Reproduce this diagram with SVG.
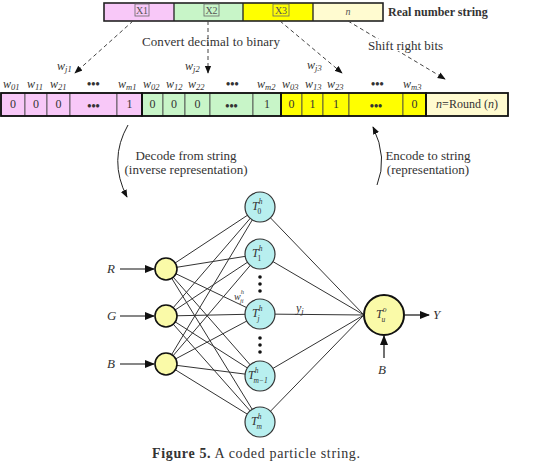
<svg xmlns="http://www.w3.org/2000/svg" width="533" height="468" viewBox="0 0 533 468">
<defs>
<style>
text{font-family:"Liberation Serif","DejaVu Serif",serif;fill:#333;}
.lbl{font-size:12px;}
.big{font-size:13px;}
.it{font-style:italic;}
.b{font-weight:bold;}
.ct{font-size:10px;text-anchor:middle;fill:#555;}
.cell{stroke:#444;stroke-width:0.8;}
.grp{fill:none;stroke:#111;stroke-width:1.8;}
.dash{fill:none;stroke:#444;stroke-width:1;stroke-dasharray:4,3;}
.edge{stroke:#333;stroke-width:1;}
.hid{fill:#b8efef;stroke:#333;stroke-width:1.2;}
.inp{fill:#fafaa8;stroke:#111;stroke-width:1.6;}
.sub{font-size:8.5px;}
.ss{font-size:7.5px;}
</style>
<marker id="ah" viewBox="0 0 10 10" refX="9" refY="5" markerWidth="8" markerHeight="8" orient="auto" markerUnits="userSpaceOnUse"><path d="M0,1 L10,5 L0,9 z" fill="#111"/></marker>
<marker id="ahb" viewBox="0 0 10 10" refX="9" refY="5" markerWidth="10" markerHeight="10" orient="auto" markerUnits="userSpaceOnUse"><path d="M0,1 L10,5 L0,9 z" fill="#111"/></marker>
</defs>

<g id="real-string">
<rect x="104" y="3" width="70" height="18" fill="#f8c8f8"/>
<rect x="174" y="3" width="69" height="18" fill="#c8f5c8"/>
<rect x="243" y="3" width="70" height="18" fill="#ffff00"/>
<rect x="313" y="3" width="70" height="18" fill="#fffbd0"/>
<path d="M174,3 V21 M243,3 V21 M313,3 V21" stroke="#222" stroke-width="1.3"/>
<rect x="104" y="3" width="279" height="18" fill="none" stroke="#222" stroke-width="1.6"/>
<rect x="135" y="4" width="14" height="12" fill="none" stroke="#666" stroke-width="0.8"/>
<rect x="204" y="4" width="15" height="12" fill="none" stroke="#666" stroke-width="0.8"/>
<rect x="273" y="4" width="16" height="12" fill="none" stroke="#666" stroke-width="0.8"/>
<text x="142" y="14" class="ct">X1</text>
<text x="211.5" y="14" class="ct">X2</text>
<text x="281" y="14" class="ct">X3</text>
<text x="348" y="15" class="ct it">n</text>
<text x="388" y="16" class="b" style="font-size:12px">Real number string</text>
</g>

<g id="connectors-top">
<line x1="133" y1="21" x2="75" y2="73" class="dash" marker-end="url(#ah)"/>
<line x1="208" y1="21" x2="208" y2="73" class="dash" marker-end="url(#ah)"/>
<line x1="280" y1="21" x2="342" y2="73" class="dash" marker-end="url(#ah)"/>
<line x1="348" y1="21" x2="445" y2="79" class="dash" marker-end="url(#ah)"/>
<text x="142" y="46" class="big" textLength="138">Convert decimal to binary</text>
<rect x="366" y="39" width="80" height="12" fill="#fff"/>
<text x="368" y="50" class="big">Shift right bits</text>
<text x="57" y="70" class="lbl it">w<tspan class="sub" dy="2">j1</tspan></text>
<text x="185" y="70" class="lbl it">w<tspan class="sub" dy="2">j2</tspan></text>
<text x="307" y="69" class="lbl it">w<tspan class="sub" dy="2">j3</tspan></text>
</g>

<g id="weight-labels" class="lbl">
<text x="3" y="88" class="it">w<tspan class="sub" dy="2">01</tspan></text>
<text x="27" y="88" class="it">w<tspan class="sub" dy="2">11</tspan></text>
<text x="50" y="88" class="it">w<tspan class="sub" dy="2">21</tspan></text>
<text x="87" y="88" class="b">•••</text>
<text x="118" y="88" class="it">w<tspan class="sub" dy="2">m1</tspan></text>
<text x="143" y="88" class="it">w<tspan class="sub" dy="2">02</tspan></text>
<text x="166" y="88" class="it">w<tspan class="sub" dy="2">12</tspan></text>
<text x="188" y="88" class="it">w<tspan class="sub" dy="2">22</tspan></text>
<text x="226" y="88" class="b">•••</text>
<text x="257" y="88" class="it">w<tspan class="sub" dy="2">m2</tspan></text>
<text x="282" y="88" class="it">w<tspan class="sub" dy="2">03</tspan></text>
<text x="305" y="88" class="it">w<tspan class="sub" dy="2">13</tspan></text>
<text x="327" y="88" class="it">w<tspan class="sub" dy="2">23</tspan></text>
<text x="371" y="88" class="b">•••</text>
<text x="403" y="88" class="it">w<tspan class="sub" dy="2">m3</tspan></text>
</g>

<g id="binary-string">
<g fill="#f8c8f8" class="cell">
<rect x="1" y="93" width="24" height="23"/><rect x="25" y="93" width="22" height="23"/><rect x="47" y="93" width="23" height="23"/><rect x="70" y="93" width="47" height="23"/><rect x="117" y="93" width="25" height="23"/>
</g>
<g fill="#c8f5c8" class="cell">
<rect x="142" y="93" width="21" height="23"/><rect x="163" y="93" width="22" height="23"/><rect x="185" y="93" width="25" height="23"/><rect x="210" y="93" width="43" height="23"/><rect x="253" y="93" width="28" height="23"/>
</g>
<g fill="#ffff00" class="cell">
<rect x="281" y="93" width="21" height="23"/><rect x="302" y="93" width="21" height="23"/><rect x="323" y="93" width="26" height="23"/><rect x="349" y="93" width="54" height="23"/><rect x="403" y="93" width="23" height="23"/>
</g>
<rect x="426" y="93" width="82" height="23" fill="#fffbd0"/>
<rect x="1" y="93" width="141" height="23" class="grp"/>
<rect x="142" y="93" width="139" height="23" class="grp"/>
<rect x="281" y="93" width="145" height="23" class="grp"/>
<rect x="426" y="93" width="82" height="23" class="grp"/>
<g class="lbl" text-anchor="middle">
<text x="13" y="108">0</text><text x="36" y="108">0</text><text x="58.5" y="108">0</text><text x="93.5" y="110" class="b">•••</text><text x="129.5" y="108">1</text>
<text x="152.5" y="108">0</text><text x="174" y="108">0</text><text x="197.5" y="108">0</text><text x="231.5" y="110" class="b">•••</text><text x="267" y="108">1</text>
<text x="291.5" y="108">0</text><text x="312.5" y="108">1</text><text x="336" y="108">1</text><text x="376" y="110" class="b">•••</text><text x="414.5" y="108">0</text>
<text x="467" y="108"><tspan class="it">n</tspan>=Round (<tspan class="it">n</tspan>)</text>
</g>
</g>

<g id="decode-encode">
<path d="M128,125 Q108,160 127,197" fill="none" stroke="#222" stroke-width="1" marker-end="url(#ah)"/>
<path d="M377,185 Q388,158 373,127" fill="none" stroke="#222" stroke-width="1" marker-end="url(#ah)"/>
<text x="186" y="160" class="big" text-anchor="middle">Decode from string</text>
<text x="186" y="174" class="big" text-anchor="middle">(inverse representation)</text>
<text x="428" y="160" class="big" text-anchor="middle">Encode to string</text>
<text x="428" y="174" class="big" text-anchor="middle">(representation)</text>
</g>

<g id="connectors">
<g class="edge">
<line x1="166" y1="269" x2="260" y2="207"/><line x1="166" y1="269" x2="260" y2="254"/><line x1="166" y1="269" x2="260" y2="314"/><line x1="166" y1="269" x2="260" y2="376"/><line x1="166" y1="269" x2="260" y2="422"/>
<line x1="166" y1="316" x2="260" y2="207"/><line x1="166" y1="316" x2="260" y2="254"/><line x1="166" y1="316" x2="260" y2="314"/><line x1="166" y1="316" x2="260" y2="376"/><line x1="166" y1="316" x2="260" y2="422"/>
<line x1="166" y1="364" x2="260" y2="207"/><line x1="166" y1="364" x2="260" y2="254"/><line x1="166" y1="364" x2="260" y2="314"/><line x1="166" y1="364" x2="260" y2="376"/><line x1="166" y1="364" x2="260" y2="422"/>
<line x1="260" y1="207" x2="364" y2="315"/><line x1="260" y1="254" x2="364" y2="315"/><line x1="260" y1="314" x2="364" y2="315"/><line x1="260" y1="376" x2="364" y2="315"/><line x1="260" y1="422" x2="364" y2="315"/>
</g>
<g stroke="#111" stroke-width="1.2">
<line x1="120" y1="269" x2="154" y2="269" marker-end="url(#ahb)"/>
<line x1="120" y1="316" x2="154" y2="316" marker-end="url(#ahb)"/>
<line x1="120" y1="364" x2="154" y2="364" marker-end="url(#ahb)"/>
<line x1="405" y1="315" x2="429" y2="315" marker-end="url(#ahb)"/>
<line x1="384" y1="358" x2="384" y2="336" marker-end="url(#ahb)"/>
</g>
<text x="234" y="300" class="it" style="font-size:10px">w<tspan style="font-size:6.5px" dy="-6">h</tspan><tspan style="font-size:6.5px" dx="-4" dy="9">ji</tspan></text>
<text x="296" y="312" class="lbl it">y<tspan class="sub" dy="2">j</tspan></text>
</g>

<g id="input-R"><circle cx="166" cy="269" r="11" class="inp"/><text x="107" y="273" class="big it">R</text></g>
<g id="input-G"><circle cx="166" cy="316" r="11" class="inp"/><text x="107" y="320" class="big it">G</text></g>
<g id="input-B"><circle cx="166" cy="364" r="11" class="inp"/><text x="107" y="368" class="big it">B</text></g>

<g id="hidden-T0"><circle cx="260" cy="207" r="15" class="hid"/><text x="252" y="210" class="lbl it">T<tspan class="ss" dy="-6">h</tspan><tspan class="ss" dx="-5" dy="10" font-style="normal">0</tspan></text></g>
<g id="hidden-T1"><circle cx="260" cy="254" r="15" class="hid"/><text x="252" y="257" class="lbl it">T<tspan class="ss" dy="-6">h</tspan><tspan class="ss" dx="-5" dy="10" font-style="normal">1</tspan></text></g>
<g id="dots1" fill="#111"><circle cx="260" cy="277" r="1.8"/><circle cx="260" cy="284" r="1.8"/><circle cx="260" cy="291" r="1.8"/></g>
<g id="hidden-Tj"><circle cx="260" cy="314" r="15" class="hid"/><text x="252" y="317" class="lbl it">T<tspan class="ss" dy="-6">h</tspan><tspan class="ss" dx="-5" dy="10">j</tspan></text></g>
<g id="dots2" fill="#111"><circle cx="260" cy="338" r="1.8"/><circle cx="260" cy="345" r="1.8"/><circle cx="260" cy="352" r="1.8"/></g>
<g id="hidden-Tm1"><circle cx="260" cy="376" r="15" class="hid"/><text x="248" y="379" class="lbl it">T<tspan class="ss" dy="-6">h</tspan><tspan class="ss" dx="-5" dy="10">m−1</tspan></text></g>
<g id="hidden-Tm"><circle cx="260" cy="422" r="15" class="hid"/><text x="251" y="425" class="lbl it">T<tspan class="ss" dy="-6">h</tspan><tspan class="ss" dx="-5" dy="10">m</tspan></text></g>

<g id="output"><circle cx="384" cy="315" r="20" fill="#fafaa8" stroke="#111" stroke-width="2"/><text x="376" y="318" class="lbl it">T<tspan class="ss" dy="-6">o</tspan><tspan class="ss" dx="-5" dy="10">u</tspan></text>
<text x="433" y="319" class="big it">Y</text><text x="378" y="374" class="big it">B</text></g>

<g id="caption"><text x="152" y="458" style="font-size:14px" textLength="208"><tspan font-weight="bold">Figure 5.</tspan> A coded particle string.</text></g>
</svg>
